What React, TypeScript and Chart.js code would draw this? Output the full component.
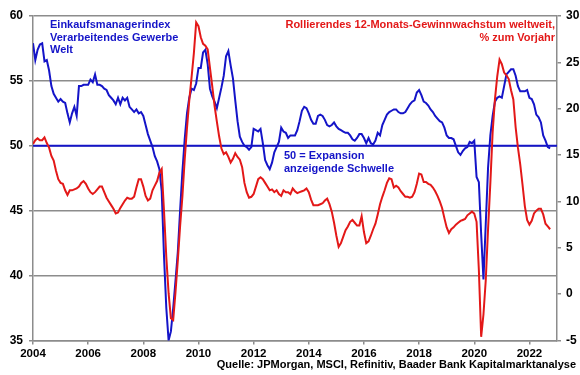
import React, { useEffect, useRef } from "react";
import { Chart, registerables } from "chart.js";

Chart.register(...registerables);

const START_YEAR = 2004;
const END_YEAR = 2023;
const YEAR_TICKS = [2004, 2006, 2008, 2010, 2012, 2014, 2016, 2018, 2020, 2022];
const PMI_MIN = 35;
const PMI_MAX = 60;
const EARNINGS_MIN = -5;
const EARNINGS_MAX = 30;
const TICK_STEP = 5;
const THRESHOLD = 50;

// Global manufacturing PMI, monthly from Jan 2004
const PMI = [
  57.9, 56.6, 57.4, 57.8, 57.9, 56.5, 56.6, 55.8, 54.6, 54.0, 53.7, 53.4,
  53.6, 53.4, 53.3, 52.5, 51.8, 52.5, 53.0, 52.3, 54.6, 54.6, 54.7, 54.7,
  54.7, 55.1, 54.9, 55.5, 54.7, 54.7, 54.6, 54.4, 54.3, 53.9, 53.7, 53.5,
  53.2, 53.7, 53.2, 53.7, 53.5, 53.7, 53.0, 52.8, 52.6, 52.8, 52.5, 52.6,
  52.3, 51.6, 50.9, 50.4, 49.9, 49.2, 48.8, 48.2, 46.5, 41.5, 37.5, 35.0,
  35.7, 37.5, 39.6, 41.8, 45.0, 48.0, 50.5, 52.5, 53.7, 54.4, 54.3, 54.8,
  56.0, 56.0, 57.2, 57.4, 56.3, 54.4, 53.8, 53.4, 52.9, 53.7, 54.5, 55.4,
  56.9, 57.3, 56.2, 55.2, 53.5, 51.9, 50.7, 50.3, 50.0, 49.9, 49.7, 49.9,
  51.3, 51.2, 51.1, 51.3, 50.2, 48.9, 48.5, 48.2, 48.7, 49.5, 49.9, 50.3,
  51.4, 51.1, 51.0, 50.6, 50.8, 50.8, 50.8, 51.2, 51.9, 52.7, 53.0, 52.9,
  52.5, 52.0, 51.7, 51.7, 52.3, 52.4, 52.3, 52.0, 51.6, 51.5, 51.6, 51.8,
  51.5, 51.3, 51.2, 51.1, 51.0, 51.0, 50.8, 50.5, 50.4, 50.6, 50.9, 50.9,
  50.6, 50.2, 50.6, 50.2, 50.1, 50.4, 51.0, 50.8, 51.6, 52.0, 52.4, 52.6,
  52.7, 52.8, 52.8, 52.6, 52.5, 52.5, 52.6, 52.9, 53.2, 53.4, 53.5, 54.1,
  54.3, 53.9, 53.4, 53.3, 53.1, 52.8, 52.6, 52.3, 52.1, 51.9, 51.8, 51.4,
  50.8, 50.6, 50.6, 50.5, 50.0, 49.5, 49.3, 49.6, 49.8, 49.9, 50.3, 50.2,
  50.4, 47.6, 47.2, 43.2, 39.7, 44.0, 48.3, 50.8, 52.3, 53.4, 53.7, 53.8,
  53.7, 54.6, 55.5, 55.7, 55.9, 55.9, 55.4, 54.6, 54.2, 54.2, 54.2, 54.3,
  53.7, 53.6, 53.2, 52.4, 52.2, 51.8, 50.8, 50.4, 49.9, 49.8,
];

// Rolling 12-month global earnings growth (% y/y), monthly from Jan 2004
const EARNINGS = [
  16.2, 16.6, 16.8, 16.6, 16.6, 16.9, 16.3, 15.8, 14.9, 14.4, 13.3, 12.4,
  12.0, 11.9, 11.2, 10.7, 11.2, 11.2, 11.3, 11.4, 11.6, 12.0, 12.2, 11.9,
  11.4, 11.0, 10.8, 11.0, 11.3, 11.6, 11.6, 11.0, 10.4, 10.0, 9.6, 9.2,
  8.7, 8.8, 9.3, 9.7, 10.1, 10.4, 10.3, 10.3, 10.5, 11.5, 12.4, 12.4,
  11.6, 10.6, 10.1, 10.3, 11.2, 11.7, 12.2, 13.1, 13.5, 9.0, 4.0, 0.1,
  -2.6, -2.8, 0.2, 3.6, 7.3, 10.5, 14.5, 17.9, 20.9, 23.4, 26.0, 29.3,
  28.9, 27.7, 27.0, 26.8, 26.4, 24.4, 22.4, 20.3, 18.6, 17.0, 15.7, 15.1,
  15.3, 14.8, 14.2, 14.6, 15.2, 14.8, 14.5, 13.7, 12.0, 11.0, 10.4, 10.5,
  10.8, 11.6, 12.4, 12.6, 12.4, 12.0, 11.6, 11.2, 11.3, 11.0, 11.2, 10.8,
  10.6, 11.2, 11.0, 11.0, 10.8, 11.4, 11.1, 10.9, 11.0, 11.1, 11.2, 11.4,
  11.0, 10.2, 9.6, 9.6, 9.6, 9.7, 9.8, 10.1, 10.3, 9.7, 8.9, 7.7,
  6.3, 5.1, 5.5, 6.2, 6.9, 7.3, 7.8, 8.0, 7.7, 7.4, 7.4, 8.4,
  6.7, 5.5, 5.7, 6.3, 7.0, 7.6, 8.6, 9.7, 10.5, 11.2, 12.0, 12.5,
  12.4, 11.5, 11.7, 11.5, 11.1, 10.8, 10.5, 10.5, 10.4, 10.5, 11.0, 11.9,
  13.0, 12.9, 12.1, 12.1, 11.9, 11.8, 11.5, 11.1, 10.6, 10.0, 9.3, 8.2,
  7.2, 6.6, 7.0, 7.2, 7.5, 7.7, 7.9, 8.0, 8.1, 8.5, 8.7, 8.9,
  8.7, 7.8, 2.6, -4.6, -2.2, 1.5, 7.0, 12.0, 17.5, 21.0, 23.5, 25.3,
  24.8, 23.9, 23.6, 23.2, 22.0, 21.0, 18.0, 15.8, 14.0, 11.8, 9.5, 8.0,
  7.5, 7.9, 8.7, 9.0, 9.2, 9.2, 8.6, 7.6, 7.3, 7.0,
];

const PMI_LABEL = ["Einkaufsmanagerindex", "Verarbeitendes Gewerbe", "Welt"];
const EARNINGS_LABEL = ["Rollierendes 12-Monats-Gewinnwachstum weltweit,", "% zum Vorjahr"];
const THRESHOLD_LABEL = ["50 = Expansion", "anzeigende Schwelle"];
const SOURCE = "Quelle: JPMorgan, MSCI, Refinitiv, Baader Bank Kapitalmarktanalyse";

const BLUE = "#1414c8";
const RED = "#e31818";
const GRID = "#8c8c8c";
const FONT = "'Liberation Sans', Arial, Helvetica, sans-serif";

const toPoints = (vals: number[]) =>
  vals.map((v, i) => ({ x: START_YEAR + i / 12, y: v }));

const annotationPlugin = {
  id: "annotations",
  afterDraw(chart: any) {
    const { ctx, chartArea: a } = chart;
    const y50 = chart.scales.y.getPixelForValue(THRESHOLD);
    ctx.save();
    ctx.font = `bold 11px ${FONT}`;
    ctx.textBaseline = "middle";

    ctx.fillStyle = BLUE;
    ctx.textAlign = "left";
    PMI_LABEL.forEach((t, i) => ctx.fillText(t, a.left + 17, a.top + 9 + i * 12.5));

    ctx.fillStyle = RED;
    ctx.textAlign = "right";
    EARNINGS_LABEL.forEach((t, i) => ctx.fillText(t, a.right - 2, a.top + 9 + i * 13));

    ctx.fillStyle = BLUE;
    ctx.textAlign = "left";
    THRESHOLD_LABEL.forEach((t, i) => ctx.fillText(t, a.left + 251, y50 + 10.5 + i * 13));

    ctx.fillStyle = "#000";
    ctx.textAlign = "right";
    ctx.fillText(SOURCE, chart.width - 4, a.bottom + 24.5);
    ctx.restore();
  },
};

export default function App() {
  const canvasRef = useRef<HTMLCanvasElement | null>(null);

  useEffect(() => {
    const canvas = canvasRef.current;
    if (!canvas) return;
    const tickFont = { family: FONT, size: 12, weight: "bold" as const };
    const chart = new Chart(canvas, {
      type: "line",
      data: {
        datasets: [
          {
            label: "Gewinnwachstum",
            data: toPoints(EARNINGS),
            yAxisID: "y1",
            borderColor: RED,
            borderWidth: 2,
            pointRadius: 0,
            tension: 0,
          },
          {
            label: "PMI",
            data: toPoints(PMI),
            yAxisID: "y",
            borderColor: BLUE,
            borderWidth: 2,
            pointRadius: 0,
            tension: 0,
          },
          {
            label: "Schwelle",
            data: [
              { x: START_YEAR, y: THRESHOLD },
              { x: END_YEAR, y: THRESHOLD },
            ],
            yAxisID: "y",
            borderColor: BLUE,
            borderWidth: 2,
            pointRadius: 0,
          },
        ],
      },
      options: {
        responsive: false,
        animation: false,
        devicePixelRatio: 1,
        parsing: true,
        layout: { padding: { top: 16, left: 0, right: 0, bottom: 0 } },
        plugins: {
          legend: { display: false },
          tooltip: { enabled: false },
        },
        scales: {
          x: {
            type: "linear",
            min: START_YEAR,
            max: END_YEAR,
            afterBuildTicks: (s: any) => {
              s.ticks = YEAR_TICKS.map((v) => ({ value: v }));
            },
            afterFit: (s: any) => {
              s.height = 34.5;
            },
            grid: {
              drawOnChartArea: false,
              drawTicks: true,
              tickLength: 4,
              color: GRID,
              lineWidth: 1.5,
            },
            border: { display: true, color: GRID, width: 1.5 },
            ticks: {
              font: { ...tickFont, size: 11.5 },
              color: "#000",
              padding: 2,
              maxRotation: 0,
              autoSkip: false,
              callback: (v: any) => String(v),
            },
          },
          y: {
            position: "left",
            min: PMI_MIN,
            max: PMI_MAX,
            afterFit: (s: any) => {
              s.width = 33;
            },
            grid: { color: GRID, lineWidth: 1.5, tickLength: 4 },
            border: { display: true, color: GRID, width: 1.5 },
            ticks: { stepSize: TICK_STEP, font: tickFont, color: "#000", padding: 6 },
          },
          y1: {
            position: "right",
            min: EARNINGS_MIN,
            max: EARNINGS_MAX,
            afterFit: (s: any) => {
              s.width = 23;
            },
            grid: { drawOnChartArea: false, color: GRID, lineWidth: 1.5, tickLength: 4 },
            border: { display: true, color: GRID, width: 1.5 },
            ticks: { stepSize: TICK_STEP, font: tickFont, color: "#000", padding: 5 },
          },
        },
      },
      plugins: [annotationPlugin],
    });
    return () => chart.destroy();
  }, []);

  return (
    <div
      style={{
        position: "fixed",
        left: 0,
        top: 0,
        width: 580,
        height: 375,
        background: "#fff",
      }}
    >
      <canvas ref={canvasRef} width={580} height={375} />
    </div>
  );
}
